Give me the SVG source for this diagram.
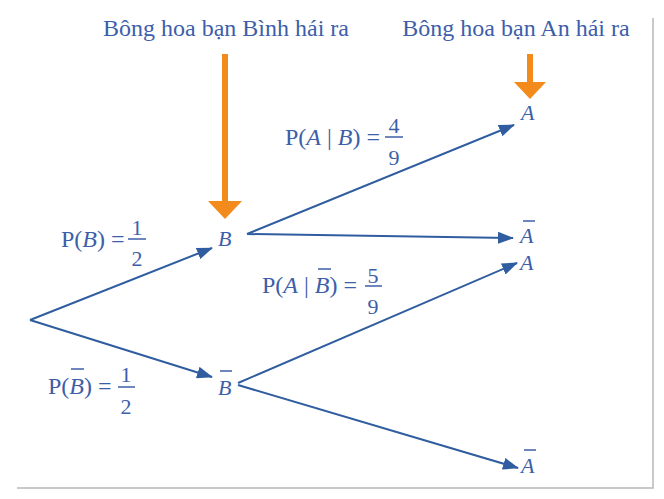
<svg xmlns="http://www.w3.org/2000/svg" width="664" height="499" viewBox="0 0 664 499">
<style>
text{font-family:"Liberation Serif","Times New Roman",serif;fill:#3d5ea9}
.t{font-size:24px}
.lab{font-size:24px}
.num{font-size:22px;text-anchor:middle}
.nd{font-size:22px;font-style:italic}
.i{font-style:italic}
.bar{stroke:#3d5ea9;stroke-width:1.5}
.c{stroke:#2f5d9f;stroke-width:2;fill:none;marker-end:url(#ah)}
.o{stroke:#f28a1c;stroke-width:6}
.of{fill:#f28a1c}
.frame{stroke:#b8b8b8;stroke-width:1.5;fill:none}
</style>
<defs>
<marker id="ah" markerUnits="userSpaceOnUse" markerWidth="16" markerHeight="12" refX="15" refY="6" orient="auto">
<path d="M0,0 L16,6 L0,12 Z" fill="#2f5d9f"/>
</marker>
</defs>
<rect width="664" height="499" fill="#ffffff"/>
<path class="frame" d="M653,18 V488 H17"/>

<g id="titles">
<text class="t" x="226" y="36" text-anchor="middle">Bông hoa bạn Bình hái ra</text>
<text class="t" x="516" y="36" text-anchor="middle">Bông hoa bạn An hái ra</text>
</g>

<g id="pointers">
<line class="o" x1="225" y1="54" x2="225" y2="205"/>
<polygon class="of" points="208,201 242,201 225,219"/>
<line class="o" x1="530" y1="54" x2="530" y2="85"/>
<polygon class="of" points="514,82 546,82 530,99"/>
</g>

<g id="connectors">
<line class="c" x1="30" y1="320" x2="212" y2="248"/>
<line class="c" x1="30" y1="320" x2="212" y2="377"/>
<line class="c" x1="247" y1="234" x2="514" y2="125"/>
<line class="c" x1="247" y1="234" x2="513" y2="238"/>
<line class="c" x1="238" y1="383" x2="517" y2="263"/>
<line class="c" x1="238" y1="385" x2="518" y2="468"/>
</g>

<g id="node-B"><text class="nd" x="218" y="246">B</text></g>
<g id="node-Bbar"><text class="nd" x="218" y="395">B</text><line class="bar" x1="220" y1="371" x2="232" y2="371"/></g>
<g id="node-A1"><text class="nd" x="521" y="120">A</text></g>
<g id="node-Abar1"><text class="nd" x="520" y="243">A</text><line class="bar" x1="523" y1="221" x2="535" y2="221"/></g>
<g id="node-A2"><text class="nd" x="520" y="270">A</text></g>
<g id="node-Abar2"><text class="nd" x="521" y="473">A</text><line class="bar" x1="524" y1="450" x2="536" y2="450"/></g>

<g id="label-PB">
<text class="lab" x="61" y="247">P(<tspan class="i">B</tspan>) =</text>
<line class="bar" x1="128" y1="239" x2="146" y2="239"/>
<text class="num" x="137" y="235">1</text>
<text class="num" x="137" y="266">2</text>
</g>

<g id="label-PAB">
<text class="lab" x="285" y="145">P(<tspan class="i">A</tspan> | <tspan class="i">B</tspan>) =</text>
<line class="bar" x1="385" y1="137" x2="403" y2="137"/>
<text class="num" x="394" y="133">4</text>
<text class="num" x="394" y="165">9</text>
</g>

<g id="label-PABbar">
<text class="lab" x="262" y="293">P(<tspan class="i">A</tspan> | <tspan class="i">B</tspan>) =</text>
<line class="bar" x1="318" y1="269" x2="331" y2="269"/>
<line class="bar" x1="365" y1="286" x2="382" y2="286"/>
<text class="num" x="373" y="283">5</text>
<text class="num" x="373" y="314">9</text>
</g>

<g id="label-PBbar">
<text class="lab" x="48" y="394">P(<tspan class="i">B</tspan>) =</text>
<line class="bar" x1="71" y1="369" x2="84" y2="369"/>
<line class="bar" x1="118" y1="387" x2="135" y2="387"/>
<text class="num" x="126" y="382">1</text>
<text class="num" x="126" y="414">2</text>
</g>
</svg>
